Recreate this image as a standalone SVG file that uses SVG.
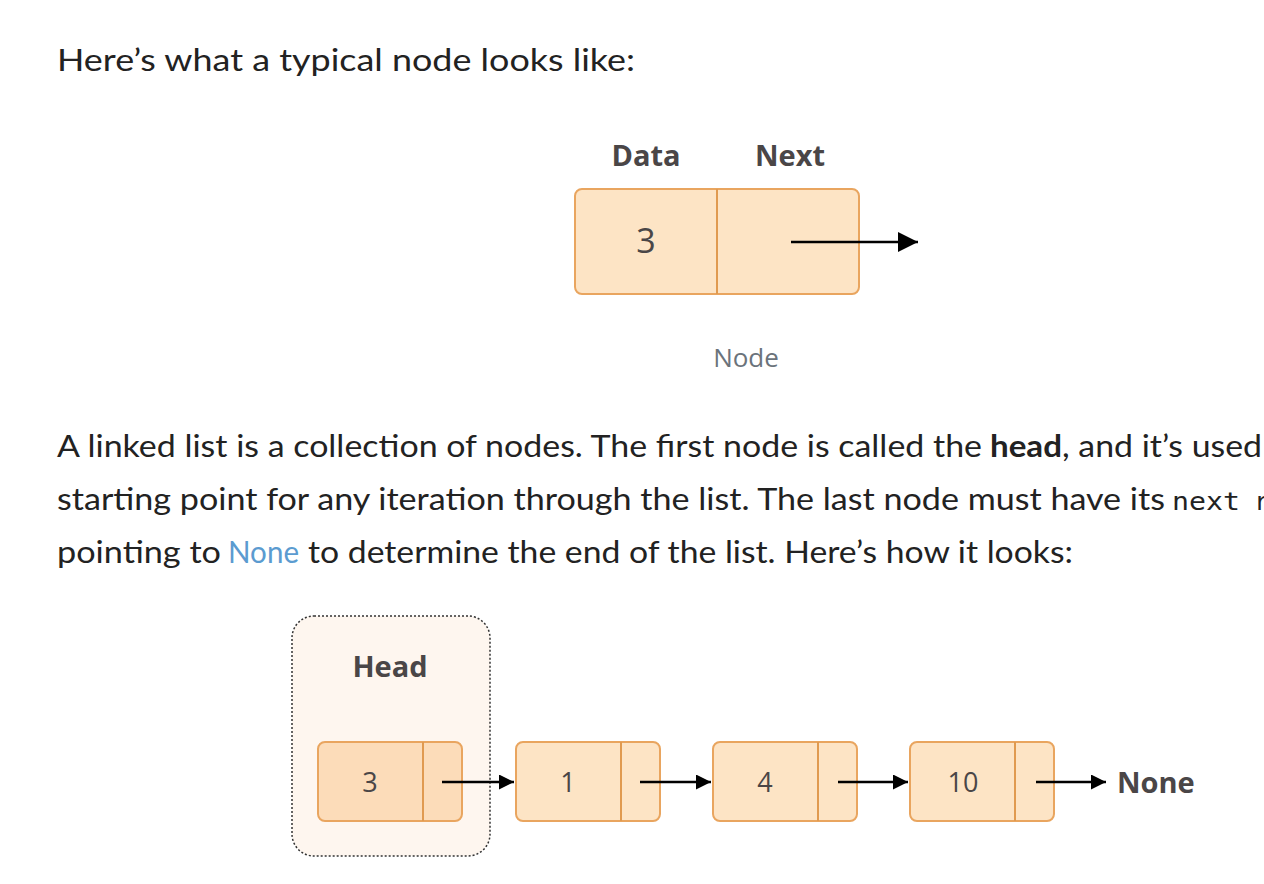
<svg xmlns="http://www.w3.org/2000/svg" width="1264" height="884" viewBox="0 0 1264 884">
<style>
.p{font-family:Lato,"Noto Sans",sans-serif;font-size:30px;fill:#222222}
.b{font-weight:700}
.m{font-family:"DejaVu Sans Mono","Liberation Mono",monospace;font-size:25px;fill:#222222}
.lbl{font-family:"Open Sans","Noto Sans",sans-serif;font-weight:700;font-size:29px;fill:#4a4647}
.num{font-family:"Open Sans","Noto Sans",sans-serif;font-size:27px;fill:#4a4647;text-anchor:middle}
.cell{fill:#fde4c5;stroke:#e9a55f;stroke-width:2}
.div{stroke:#e09a50;stroke-width:2}
.arr{stroke:#000;stroke-width:2.5;fill:none}
</style>
<defs>
<marker id="ah" viewBox="0 0 10 10" refX="10" refY="5" markerWidth="6" markerHeight="6" markerUnits="strokeWidth" orient="auto">
<path d="M0,0 L10,5 L0,10 Z" fill="#000"/>
</marker>
<marker id="ahL" viewBox="0 0 10 10" refX="10" refY="5" markerWidth="8" markerHeight="8.5" markerUnits="strokeWidth" orient="auto">
<path d="M0,0 L10,5 L0,10 Z" fill="#000"/>
</marker>
</defs>
<rect width="1264" height="884" fill="#ffffff"/>
<g id="text">
<text class="p" x="57" y="71" textLength="578" lengthAdjust="spacingAndGlyphs">Here’s what a typical node looks like:</text>
<text class="p" x="57" y="457" textLength="925" lengthAdjust="spacingAndGlyphs">A linked list is a collection of nodes. The first node is called the</text>
<text class="p b" x="990" y="457" textLength="72" lengthAdjust="spacingAndGlyphs">head</text>
<text class="p" x="1062" y="457" textLength="200" lengthAdjust="spacingAndGlyphs">, and it’s used</text>
<text class="p" x="57" y="510" textLength="1108" lengthAdjust="spacingAndGlyphs">starting point for any iteration through the list. The last node must have its</text>
<text class="m" x="1172" y="510" textLength="68" lengthAdjust="spacingAndGlyphs">next</text>
<text class="m" x="1254" y="510">r</text>
<text class="p" x="57" y="563" textLength="164" lengthAdjust="spacingAndGlyphs">pointing to</text>
<text class="p" x="228" y="563" textLength="71" lengthAdjust="spacingAndGlyphs" style="fill:#5b9bd0">None</text>
<text class="p" x="308" y="563" textLength="765" lengthAdjust="spacingAndGlyphs">to determine the end of the list. Here’s how it looks:</text>
</g>
<g id="node-typical">
<text class="lbl" x="646" y="166" text-anchor="middle">Data</text>
<text class="lbl" x="790" y="166" text-anchor="middle">Next</text>
<rect class="cell" x="575" y="189" width="284" height="105" rx="7"/>
<line class="div" x1="717" y1="189" x2="717" y2="294"/>
<text class="num" x="646" y="253" style="font-size:34px">3</text>
<text x="746" y="367" text-anchor="middle" style="font-family:'Open Sans','Noto Sans',sans-serif;font-size:26px;fill:#6b737b">Node</text>
</g>
<g id="head-group">
<rect x="292" y="616" width="198" height="240" rx="22" fill="#fef6ef" stroke="#333" stroke-width="1.5" stroke-dasharray="2 2"/>
<text class="lbl" x="390" y="677" text-anchor="middle">Head</text>
</g>
<g id="node-3">
<rect class="cell" x="318" y="742" width="144" height="79" rx="7" style="fill:#fcdcb9"/>
<line class="div" x1="423" y1="742" x2="423" y2="821"/>
<text class="num" x="370" y="792">3</text>
</g>
<g id="node-1">
<rect class="cell" x="516" y="742" width="144" height="79" rx="7"/>
<line class="div" x1="621" y1="742" x2="621" y2="821"/>
<text class="num" x="568" y="792">1</text>
</g>
<g id="node-4">
<rect class="cell" x="713" y="742" width="144" height="79" rx="7"/>
<line class="div" x1="818" y1="742" x2="818" y2="821"/>
<text class="num" x="765" y="792">4</text>
</g>
<g id="node-10">
<rect class="cell" x="910" y="742" width="144" height="79" rx="7"/>
<line class="div" x1="1015" y1="742" x2="1015" y2="821"/>
<text class="num" x="963" y="792">10</text>
</g>
<g id="none">
<text class="lbl" x="1117" y="793">None</text>
</g>
<g id="connectors">
<line class="arr" x1="791" y1="242" x2="918" y2="242" marker-end="url(#ahL)"/>
<line class="arr" x1="442" y1="782" x2="514" y2="782" marker-end="url(#ah)"/>
<line class="arr" x1="640" y1="782" x2="711" y2="782" marker-end="url(#ah)"/>
<line class="arr" x1="838" y1="782" x2="908" y2="782" marker-end="url(#ah)"/>
<line class="arr" x1="1036" y1="782" x2="1106" y2="782" marker-end="url(#ah)"/>
</g>
</svg>
